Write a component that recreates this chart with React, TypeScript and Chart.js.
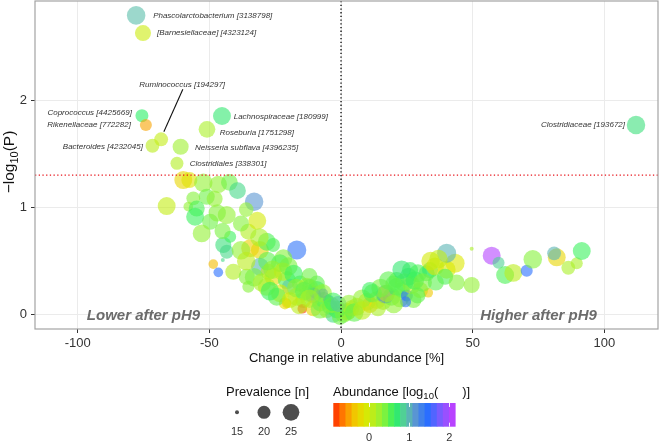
import React, { useEffect, useRef } from "react";
import { Chart, registerables } from "chart.js";
Chart.register(...registerables);

// ---------- data ----------
const changePct = [
  -77.8, -75.2, -75.6, -74.1, -71.6, -68.3, -45.2, -50.9, -60.9, -62.3,
  112.0, -59.9, -57.6, -52.3, -46.6, -42.4, -39.3, -51.0, -56.1, -33.0,
  -66.2, -58.0, -54.8, -55.4, -49.7, -52.9, -43.4, -44.7, -42.1, -43.4,
  -44.9, -48.5, -46.6, -40.9, -35.8, -35.2, -35.2, -31.8, -34.5, -30.8,
  -28.2, -25.8, -16.8, -30.8, -21.9, -25.7, -20.6, -19.4, -15.6, -23.2,
  -21.3, -28.2, -24.4, -9.2, -11.8, -23.2, -27.5, -13.0, -9.2, -10.5,
  -14.3, -20.6, -14.7, -10.5, -8.0, -6.7, -4.8, -5.4, -2.9, -0.4,
  2.8, -4.2, -6.8, -11.8, -16.8, -19.4, 2.2, 6.0, 9.8, 11.0,
  13.6, 16.0, 19.2, 16.8, 17.3, 21.1, 22.4, 23.0, 25.0, 27.5,
  26.8, 30.0, 33.1, 25.6, 21.1, 19.9, 29.2, 32.5, 33.8, 26.2,
  35.7, 40.1, 43.3, 40.1, 39.5, 43.9, 49.6, 49.6, 57.2, 59.8,
  62.3, 65.4, 70.5, 72.8, 81.9, 80.9, 86.3, 89.5, 91.4, -1.5,
  1.0, -3.5, 4.0, 24.5,
  -38.0, -36.0, -33.0, -30.0, -28.0, -26.0, -27.0, -22.0, -20.0, -18.0,
  -17.0, -14.0, -12.0, -8.0, -7.0, -3.0, -1.0, -16.0, -12.0, -31.0,
  -38.0, -36.0, -47.0, -48.0, -45.0,
  3.0, 5.0, 8.0, 8.0, 12.0, 14.0, 15.0, 18.0, 20.0, 24.0,
  28.0, 31.0, 34.0, 37.0, 23.0, 29.0, 11.0, 36.0,
];
const negLog10P = [
  2.79, 2.625, 1.855, 1.768, 1.575, 1.635, 1.852, 1.728, 1.566, 1.411,
  1.768, 1.255, 1.255, 1.23, 1.215, 1.234, 1.156, 1.10, 1.085, 1.053,
  1.013, 1.007, 0.99, 0.913, 0.867, 0.758, 0.929, 0.65, 0.727, 0.587,
  0.51, 0.472, 0.395, 0.40, 0.354, 0.26, 0.774, 0.876, 0.62, 0.603,
  0.68, 0.65, 0.603, 0.447, 0.526, 0.354, 0.323, 0.26, 0.29, 0.2,
  0.106, 0.26, 0.168, 0.29, 0.2, 0.48, 0.40, 0.26, 0.23, 0.18,
  0.137, 0.106, 0.056, 0.06, 0.106, 0.137, 0.137, 0.044, 0.0, -0.02,
  0.03, 0.075, 0.2, 0.26, 0.168, 0.137, 0.028, 0.075, 0.121, 0.09,
  0.137, 0.12, 0.168, 0.19, 0.2, 0.26, 0.153, 0.23, 0.18, 0.137,
  0.277, 0.23, 0.205, 0.354, 0.323, 0.29, 0.386, 0.386, 0.416, 0.416,
  0.45, 0.42, 0.48, 0.572, 0.354, 0.30, 0.277, 0.615, 0.55, 0.485,
  0.37, 0.39, 0.41, 0.516, 0.535, 0.572, 0.438, 0.479, 0.594, 0.05,
  0.01, 0.09, 0.06, 0.12,
  0.6, 0.5, 0.35, 0.3, 0.5, 0.42, 0.22, 0.4, 0.45, 0.38,
  0.25, 0.22, 0.15, 0.05, 0.2, 0.12, 0.1, 0.08, 0.36, 0.72,
  0.85, 0.98, 0.95, 1.08, 0.78,
  0.1, 0.02, 0.15, 0.04, 0.2, 0.06, 0.25, 0.32, 0.1, 0.3,
  0.32, 0.3, 0.5, 0.52, 0.42, 0.18, 0.23, 0.3,
];
const prevalence = [
  28, 24, 20, 19, 21, 21, 27, 25, 24, 20,
  28, 27, 24, 28, 26, 25, 25, 24, 21, 28,
  27, 17, 24, 27, 24, 27, 27, 24, 19, 21,
  15, 17, 17, 24, 24, 19, 24, 27, 27, 27,
  27, 21, 29, 27, 27, 27, 27, 24, 24, 27,
  19, 27, 27, 24, 27, 27, 24, 27, 27, 24,
  24, 17, 17, 24, 24, 24, 18, 24, 24, 24,
  24, 24, 17, 24, 27, 24, 27, 27, 27, 24,
  27, 24, 27, 28, 26, 27, 27, 24, 19, 24,
  27, 24, 17, 27, 24, 24, 27, 24, 24, 24,
  27, 27, 29, 29, 24, 24, 24, 15, 27, 19,
  27, 27, 19, 28, 27, 21, 21, 19, 27, 27,
  27, 24, 24, 18,
  28, 28, 28, 28, 28, 28, 28, 28, 28, 28,
  28, 28, 28, 28, 28, 28, 24, 24, 24, 28,
  24, 22, 26, 24, 24,
  28, 28, 28, 28, 28, 24, 28, 28, 28, 28,
  28, 28, 28, 28, 28, 24, 24, 24,
];
const abundanceLog10 = [
  0.95, 0.0, 0.65, -0.5, 0.1, 0.05, 0.7, 0.2, 0.25, 0.15,
  0.75, -0.25, -0.15, 0.3, 0.3, 0.45, 0.8, 0.45, 0.35, 1.15,
  0.05, 0.3, 0.55, 0.6, 0.45, 0.3, 0.3, 0.75, 0.6, 0.8,
  0.8, -0.4, 1.45, 0.15, 0.35, 0.35, 0.15, -0.05, -0.3, -0.25,
  0.55, 0.55, 1.4, 1.0, 0.35, -0.2, 0.55, 0.9, 0.5, -0.1,
  -0.2, 0.15, 0.5, 0.5, -0.1, 0.55, 0.1, 0.15, 0.55, 1.3,
  0.3, -0.3, -0.85, -0.25, 0.5, 0.6, 1.45, 0.15, 0.8, 0.45,
  0.15, 0.5, 1.5, 0.45, 0.2, 0.0, 0.1, -0.2, 0.1, -0.35,
  -0.15, 0.2, 0.55, 1.4, 0.05, 0.6, 0.35, 0.5, 1.45, 0.4,
  0.1, 0.2, -0.35, 0.75, 0.55, 0.5, 0.55, 0.55, 0.7, 0.6,
  -0.1, -0.05, -0.1, 1.0, 0.55, 0.35, 0.3, 0.2, 2.05, 0.85,
  0.55, 0.1, 1.45, 0.35, -0.25, 1.0, 0.2, 0.2, 0.6, 0.6,
  0.4, 0.3, 0.0, 1.4,
  0.3, 0.1, 0.4, 0.2, 0.5, 0.3, 0.6, 0.1, 0.4, 0.6,
  0.3, 0.5, 0.2, 0.4, 0.3, 0.6, 0.9, 0.1, 0.45, 0.2,
  0.35, 0.3, 0.35, 0.3, 0.4,
  0.3, 0.5, 0.3, 0.1, 0.5, 0.2, 0.4, 0.5, 0.3, 0.5,
  0.6, 0.4, -0.05, 0.05, 0.7, 0.5, 0.6, 0.5,
];
// labelled taxa (index into the arrays above)
const labelIndex = [0, 1, 2, 3, 4, 5, 6, 7, 8, 9, 10];
const labelNames = [
  "Phascolarctobacterium [3138798]",
  "[Barnesiellaceae] [4323124]",
  "Coprococcus [4425669]",
  "Rikenellaceae [772282]",
  "Bacteroides [4232045]",
  "Ruminococcus [194297]",
  "Lachnospiraceae [180999]",
  "Roseburia [1751298]",
  "Neisseria subflava [4396235]",
  "Clostridiales [338301]",
  "Clostridiaceae [193672]",
];
const xTicks = [-100, -50, 0, 50, 100];
const yTicks = [0, 1, 2];
const sizeLegendValues = [15, 20, 25];
const colorLegendTicks = [0, 1, 2];
const pThreshold = 0.05;
const regionLabels = ["Lower after pH9", "Higher after pH9"];
const regionLabelX = [-75, 75];

// ---------- styling / layout ----------
const FONT = "'Liberation Sans', Arial, Helvetica, sans-serif";
const X_MIN = -116.2, X_MAX = 120.35, Y_MIN = -0.133, Y_MAX = 2.924;
const COLOR_MIN = -0.89, COLOR_MAX = 2.14;
// pixel offsets of labels from their point: [dx, dy, align]
const labelLayout: [number, number, CanvasTextAlign][] = [
  [17, 0, "left"],
  [14, 0, "left"],
  [-10, -2.5, "right"],
  [-15, 0, "right"],
  [-9.6, 1.3, "right"],
  [21, -55, "center"],
  [11.7, 1, "left"],
  [12.7, 3.4, "left"],
  [14.3, 1.3, "left"],
  [12.7, 0.7, "left"],
  [-11, 0, "right"],
];

const colorStops: [number, number[]][] = [
  [-0.89, [255, 40, 0]],
  [-0.6, [255, 140, 0]],
  [-0.35, [240, 200, 0]],
  [-0.1, [220, 232, 0]],
  [0.2, [170, 240, 40]],
  [0.45, [110, 242, 70]],
  [0.65, [40, 240, 100]],
  [0.9, [90, 200, 160]],
  [1.15, [90, 150, 210]],
  [1.45, [40, 110, 255]],
  [1.8, [130, 90, 255]],
  [2.14, [200, 60, 255]],
];
function colorFor(v: number, alpha: number) {
  let c = colorStops[colorStops.length - 1][1];
  if (v <= colorStops[0][0]) c = colorStops[0][1];
  for (let i = 0; i < colorStops.length - 1; i++) {
    const [a, ca] = colorStops[i];
    const [b, cb] = colorStops[i + 1];
    if (v >= a && v <= b) {
      const t = (v - a) / (b - a);
      c = ca.map((x, k) => Math.round(x + (cb[k] - x) * t));
      break;
    }
  }
  return `rgba(${c[0]},${c[1]},${c[2]},${alpha})`;
}
function radiusFor(n: number) {
  return 2 + 4.5 * Math.sqrt(Math.max(0, n - 15) / 5);
}

type Part = [string, number, number];
function drawParts(ctx: CanvasRenderingContext2D, parts: Part[], x: number, y: number, align: "left" | "center") {
  let total = 0;
  const widths = parts.map(([t, s]) => {
    if (t === "") return s;
    ctx.font = `${s}px ${FONT}`;
    return ctx.measureText(t).width;
  });
  widths.forEach((w) => (total += w));
  let cx = align === "center" ? x - total / 2 : x;
  ctx.textAlign = "left";
  ctx.textBaseline = "alphabetic";
  parts.forEach(([t, s, dy], i) => {
    if (t !== "") {
      ctx.font = `${s}px ${FONT}`;
      ctx.fillText(t, cx, y + dy);
    }
    cx += widths[i];
  });
}

const overlay = {
  id: "overlay",
  afterDatasetsDraw(chart: any) {
    const { ctx, chartArea: ca, scales } = chart;
    const xs = scales.x, ys = scales.y;
    ctx.save();
    ctx.beginPath();
    ctx.rect(ca.left, ca.top, ca.right - ca.left, ca.bottom - ca.top);
    ctx.clip();
    ctx.lineWidth = 1.3;
    ctx.setLineDash([1.3, 2.4]);
    ctx.strokeStyle = "#000";
    const x0 = xs.getPixelForValue(0);
    ctx.beginPath();
    ctx.moveTo(x0, ca.top);
    ctx.lineTo(x0, ca.bottom);
    ctx.stroke();
    ctx.strokeStyle = "#e8141c";
    const yp = ys.getPixelForValue(-Math.log10(pThreshold));
    ctx.beginPath();
    ctx.moveTo(ca.left, yp);
    ctx.lineTo(ca.right, yp);
    ctx.stroke();
    ctx.setLineDash([]);
    ctx.fillStyle = "#6b6b6b";
    ctx.font = `italic bold 15px ${FONT}`;
    ctx.textAlign = "center";
    ctx.textBaseline = "middle";
    regionLabels.forEach((t, i) => {
      ctx.fillText(t, xs.getPixelForValue(regionLabelX[i]), ys.getPixelForValue(0) + 1);
    });
    ctx.restore();

    ctx.save();
    ctx.fillStyle = "#333";
    ctx.strokeStyle = "#111";
    ctx.font = `italic 8px ${FONT}`;
    ctx.textBaseline = "middle";
    labelIndex.forEach((idx, i) => {
      const px = xs.getPixelForValue(changePct[idx]);
      const py = ys.getPixelForValue(negLog10P[idx]);
      const [dx, dy, align] = labelLayout[i];
      ctx.textAlign = align;
      ctx.fillText(labelNames[i], px + dx, py + dy);
      if (align === "center") {
        ctx.lineWidth = 1.1;
        ctx.beginPath();
        ctx.moveTo(px + dx + 0.7, py + dy + 5);
        ctx.lineTo(px + 2.7, py - 7.6);
        ctx.stroke();
      }
    });
    ctx.restore();

    ctx.save();
    ctx.strokeStyle = "#a3a3a3";
    ctx.lineWidth = 1.2;
    ctx.strokeRect(ca.left, ca.top, ca.right - ca.left, ca.bottom - ca.top);
    ctx.restore();
  },
  afterDraw(chart: any) {
    const { ctx, chartArea: ca } = chart;
    ctx.save();
    ctx.fillStyle = "#111";
    ctx.font = `13px ${FONT}`;
    ctx.textAlign = "center";
    ctx.textBaseline = "middle";
    ctx.fillText("Change in relative abundance [%]", (ca.left + ca.right) / 2, 358);
    ctx.save();
    ctx.translate(14, (ca.top + ca.bottom) / 2 - 3);
    ctx.rotate(-Math.PI / 2);
    drawParts(ctx, [["\u2212log", 15.5, 0], ["10", 11, 3.8], ["(P)", 15.5, 0]], 0, 0, "center");
    ctx.restore();

    ctx.fillStyle = "#111";
    drawParts(ctx, [["Prevalence [n]", 13, 0]], 226, 396, "left");
    sizeLegendValues.forEach((n, i) => {
      const cx = 237 + i * 27;
      ctx.fillStyle = "#4d4d4d";
      ctx.beginPath();
      ctx.arc(cx, 412.3, radiusFor(n), 0, Math.PI * 2);
      ctx.fill();
      ctx.fillStyle = "#333";
      ctx.font = `11px ${FONT}`;
      ctx.textAlign = "center";
      ctx.textBaseline = "middle";
      ctx.fillText(String(n), cx, 431.5);
    });

    ctx.fillStyle = "#111";
    drawParts(ctx, [["Abundance [log", 13, 0], ["10", 9.5, 3], ["(", 13, 0], ["", 24, 0], [")]", 13, 0]], 333, 396, "left");
    const barL = 333.3, barR = 455, barT = 403, barB = 426.7;
    const nbin = 20;
    const bw = (barR - barL) / nbin;
    for (let i = 0; i < nbin; i++) {
      const v = COLOR_MIN + ((i + 0.5) / nbin) * (COLOR_MAX - COLOR_MIN);
      ctx.fillStyle = colorFor(v, 1);
      ctx.fillRect(barL + i * bw, barT, bw + 0.6, barB - barT);
    }
    const vx = (v: number) => barL + ((v - COLOR_MIN) / (COLOR_MAX - COLOR_MIN)) * (barR - barL);
    ctx.strokeStyle = "rgba(255,255,255,0.9)";
    ctx.lineWidth = 1;
    colorLegendTicks.forEach((t) => {
      const px = Math.round(vx(t)) + 0.5;
      ctx.beginPath();
      ctx.moveTo(px, barT);
      ctx.lineTo(px, barT + 4);
      ctx.moveTo(px, barB - 4);
      ctx.lineTo(px, barB);
      ctx.stroke();
      ctx.fillStyle = "#333";
      ctx.font = `11px ${FONT}`;
      ctx.textAlign = "center";
      ctx.textBaseline = "middle";
      ctx.fillText(String(t), vx(t), 437.5);
    });
    ctx.restore();
  },
};

export default function App() {
  const ref = useRef<HTMLCanvasElement>(null);
  useEffect(() => {
    const canvas = ref.current!;
    const points = changePct.map((x, i) => ({ x, y: negLog10P[i], r: radiusFor(prevalence[i]) }));
    const colors = abundanceLog10.map((v) => colorFor(v, 0.6));
    const chart = new Chart(canvas, {
      type: "bubble",
      data: {
        datasets: [
          {
            data: points,
            backgroundColor: colors,
            borderWidth: 0,
            hoverBorderWidth: 0,
            clip: false as any,
          },
        ],
      },
      options: {
        animation: false,
        responsive: false,
        devicePixelRatio: 1,
        events: [],
        layout: { autoPadding: false, padding: { top: 1, right: 2, left: 0, bottom: 0 } },
        plugins: { legend: { display: false }, tooltip: { enabled: false } },
        scales: {
          x: {
            type: "linear",
            min: X_MIN,
            max: X_MAX,
            afterBuildTicks: (s: any) => {
              s.ticks = xTicks.map((v) => ({ value: v }));
            },
            afterFit: (s: any) => {
              s.height = 113;
              s.paddingLeft = 0;
              s.paddingRight = 0;
              s.paddingTop = 0;
              s.paddingBottom = 0;
            },
            grid: { color: "#ebebeb", tickColor: "#333", tickLength: 4, lineWidth: 1 },
            border: { display: false },
            ticks: { font: { family: FONT, size: 13 }, color: "#333", padding: 3, maxRotation: 0, callback: (v: any) => String(v) },
          },
          y: {
            type: "linear",
            min: Y_MIN,
            max: Y_MAX,
            afterBuildTicks: (s: any) => {
              s.ticks = yTicks.map((v) => ({ value: v }));
            },
            afterFit: (s: any) => {
              s.width = 35;
              s.paddingLeft = 0;
              s.paddingRight = 0;
              s.paddingTop = 0;
              s.paddingBottom = 0;
            },
            grid: { color: "#ebebeb", tickColor: "#333", tickLength: 4, lineWidth: 1 },
            border: { display: false },
            ticks: { font: { family: FONT, size: 13 }, color: "#333", padding: 4, callback: (v: any) => String(v) },
          },
        },
      },
      plugins: [overlay],
    });
    return () => chart.destroy();
  }, []);
  return (
    <div style={{ position: "absolute", left: 0, top: 0, width: 660, height: 442 }}>
      <canvas ref={ref} width={660} height={442} style={{ display: "block" }} />
    </div>
  );
}
